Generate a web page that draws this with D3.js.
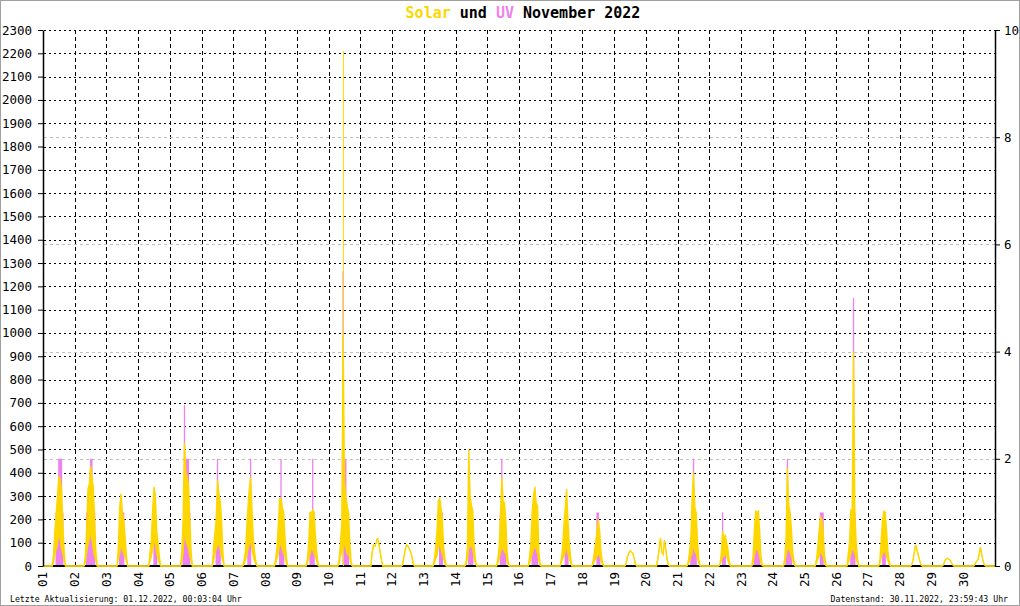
<!DOCTYPE html>
<html><head><meta charset="utf-8">
<script src="https://cdn.jsdelivr.net/npm/d3@7"></script>
<style>
body{margin:0;background:#fff}
svg{display:block}
text{font-family:"DejaVu Sans Mono","Liberation Mono",monospace}
</style>
</head><body>
<svg id="chart" width="1020" height="606"></svg>
<script>
// ---------- data ----------
const dayLabels = ["01","02","03","04","05","06","07","08","09","10","11","12","13","14","15",
                   "16","17","18","19","20","21","22","23","24","25","26","27","28","29","30"];
const hours = [7,8,9,10,11,12,13,14,15,16,17,18];
const leftTicks = [0,100,200,300,400,500,600,700,800,900,1000,1100,1200,1300,1400,1500,1600,1700,1800,1900,2000,2100,2200,2300];
const rightTicks = [0,2,4,6,8,10];

// solar radiation (W/m²): upper envelope per hour
const solarHi = [
 [0,50,150,230,300,385,370,330,180,60,0,0],
 [0,40,150,330,350,430,380,340,200,60,0,0],
 [0,0,80,250,310,230,200,130,50,0,0,0],
 [0,0,60,120,250,340,300,150,100,40,0,0],
 [0,0,60,200,530,400,380,350,200,60,0,0],
 [0,0,80,140,200,370,310,280,200,60,0,0],
 [0,20,60,150,250,330,380,250,120,60,20,0],
 [0,30,80,180,290,290,250,230,120,40,0,0],
 [0,30,100,230,230,240,230,130,60,10,0,0],
 [0,30,100,180,1000,360,300,260,230,100,20,0],
 [0,0,60,90,85,100,120,95,60,25,0,0],
 [0,5,40,70,90,85,75,60,40,10,0,0],
 [0,30,80,150,280,290,250,200,80,30,0,0],
 [0,20,80,500,300,260,240,90,30,0,0,0],
 [0,30,80,220,380,280,270,200,60,10,0,0],
 [0,40,100,240,300,340,270,260,60,10,0,0],
 [0,30,80,180,250,330,200,100,40,0,0,0],
 [0,20,60,100,150,200,150,60,20,0,0,0],
 [0,0,10,40,55,65,60,55,35,10,0,0],
 [0,0,30,70,120,60,50,110,70,30,5,0],
 [0,20,60,120,300,400,250,230,100,30,0,0],
 [0,10,50,150,110,135,100,70,20,0,0,0],
 [0,0,40,150,235,230,235,150,40,5,0,0],
 [0,0,30,120,420,260,230,160,60,20,0,0],
 [0,0,30,80,150,210,200,150,50,10,0,0],
 [0,0,50,100,240,240,920,230,100,30,0,0],
 [0,0,30,120,200,235,230,150,60,20,0,0],
 [0,0,5,25,60,90,70,45,25,5,0,0],
 [0,0,5,20,30,33,30,25,15,5,0,0],
 [0,0,10,20,25,50,80,50,20,5,0,0]
];
// lower envelope per hour (null = smooth day, no spread)
const solarLo = [
 [0,10,50,70,90,140,110,70,50,20,0,0],
 [0,10,50,90,110,140,110,70,40,20,0,0],
 [0,0,30,50,90,70,50,40,20,0,0,0],
 [0,0,20,40,70,110,90,50,30,10,0,0],
 [0,0,20,50,140,110,90,70,40,20,0,0],
 [0,0,20,50,70,90,90,70,40,20,0,0],
 [0,5,20,40,70,90,110,70,40,20,5,0],
 [0,10,30,50,90,90,70,50,40,10,0,0],
 [0,10,30,50,70,70,50,40,20,0,0,0],
 [0,10,40,60,110,90,70,50,50,30,5,0],
 null,
 null,
 [0,10,30,40,80,90,70,50,30,10,0,0],
 [0,5,30,70,90,80,70,30,10,0,0,0],
 [0,10,30,50,80,70,60,50,20,0,0,0],
 [0,10,30,50,70,80,70,50,20,0,0,0],
 [0,10,30,40,60,80,50,30,10,0,0,0],
 [0,5,20,30,40,50,40,20,5,0,0,0],
 null,
 null,
 [0,5,20,40,50,90,60,50,30,10,0,0],
 [0,5,20,40,40,50,40,20,5,0,0,0],
 [0,0,10,40,70,70,60,40,10,0,0,0],
 [0,0,10,40,70,70,60,40,20,5,0,0],
 [0,0,10,30,40,60,50,40,15,0,0,0],
 [0,0,10,30,50,70,70,50,30,10,0,0],
 [0,0,10,40,50,60,60,40,20,5,0,0],
 null,
 null,
 null
];
// short single-sample solar spikes: [day, hour, value]
const solarSpikes = [[10, 11.2, 2210]];

// UV index per hour
const uvIndex = [
 [0,0,0,1,1,2,2,2,1,0,0,0],
 [0,0,1,1,1,2,2,1,1,0,0,0],
 [0,0,0,1,1,1,1,0,0,0,0,0],
 [0,0,0,0,0,0.6,0.6,0.5,0,0,0,0],
 [0,0,0,0.5,3,2,2,2,1,0,0,0],
 [0,0,0,0,0.5,2,1,0.5,0,0,0,0],
 [0,0,0,0,1,1,2,0,0,0,0,0],
 [0,0,0,0,0.6,2,0.6,0.6,0,0,0,0],
 [0,0,0,1,1,2,1,0,0,0,0,0],
 [0,0,0,0,5.5,2,2,1,1,0,0,0],
 null,
 null,
 [0,0,0,0,0,1,1,1,0,0,0,0],
 [0,0,0,1,0.6,0.6,0.5,0,0,0,0,0],
 [0,0,0,1,2,1,0.5,0.5,0,0,0,0],
 [0,0,0,0.5,0.5,0.5,0.5,0.5,0,0,0,0],
 [0,0,0,0,0.5,1,0.5,0,0,0,0,0],
 [0,0,0,0,1,1,0.5,0,0,0,0,0],
 null,
 null,
 [0,0,0,0.5,1,2,1,1,0,0,0,0],
 [0,0,0,1,0.5,0.3,0,0,0,0,0,0],
 [0,0,0,0.5,1,1,1,0.5,0,0,0,0],
 [0,0,0,0.5,2,1,1,0.5,0,0,0,0],
 [0,0,0,0,0,1,1,1,0,0,0,0],
 [0,0,0,0,1,1,5,1,0,0,0,0],
 [0,0,0,0,0.5,1,1,0,0,0,0,0],
 null,
 null,
 null
];

// ---------- build series ----------
const pts = [{t:0, hi:0, lo:0, uv:0}];
dayLabels.forEach((d,i)=>{
  hours.forEach((h,j)=>{
    const hi = solarHi[i][j];
    const lo = solarLo[i] ? solarLo[i][j] : hi;
    const uv = uvIndex[i] ? uvIndex[i][j] : 0;
    pts.push({t:i*24+h, hi, lo, uv});
  });
});
pts.push({t:dayLabels.length*24, hi:0, lo:0, uv:0});

// ---------- chart ----------
const W=1020, H=606;
const m = {l:43, r:995, t:30, b:566};
const svg = d3.select("#chart");
const x = d3.scaleLinear().domain([0, dayLabels.length*24]).range([m.l, m.r]);
const yL = d3.scaleLinear().domain([0,2300]).range([m.b, m.t]);
const yR = d3.scaleLinear().domain([0,10]).range([m.b, m.t]);

// frame
svg.append("rect").attr("x",0.5).attr("y",0.5).attr("width",W-1).attr("height",H-1)
  .attr("fill","#fff").attr("stroke","#a0a0a0");

const g = svg.append("g");

// horizontal dotted grid
g.selectAll("line.hg").data(leftTicks.filter(v=>v>0)).join("line")
  .attr("x1",m.l+1).attr("x2",m.r).attr("y1",d=>Math.round(yL(d))+0.5).attr("y2",d=>Math.round(yL(d))+0.5)
  .attr("stroke","#000").attr("stroke-width",1).attr("stroke-dasharray","2,3").attr("shape-rendering","crispEdges");
// vertical dashed grid at day boundaries
g.selectAll("line.vg").data(dayLabels.slice(1)).join("line")
  .attr("x1",(d,i)=>Math.round(x((i+1)*24))+0.5).attr("x2",(d,i)=>Math.round(x((i+1)*24))+0.5)
  .attr("y1",m.t).attr("y2",m.b)
  .attr("stroke","#000").attr("stroke-width",1).attr("stroke-dasharray","4,3").attr("shape-rendering","crispEdges");
// gray dashed lines for right-axis ticks
g.selectAll("line.rg").data(rightTicks.filter(v=>v>0 && v<10)).join("line")
  .attr("x1",m.l+1).attr("x2",m.r).attr("y1",d=>Math.round(yR(d))+0.5).attr("y2",d=>Math.round(yR(d))+0.5)
  .attr("stroke","#c0c0c0").attr("stroke-width",1).attr("stroke-dasharray","3,3").attr("shape-rendering","crispEdges");

// UV (violet)
g.append("path").datum(pts)
  .attr("d", d3.area().x(d=>x(d.t)).y0(yR(0)).y1(d=>yR(d.uv)).curve(d3.curveStep))
  .attr("fill","#EE82EE");

// black baseline
g.append("line").attr("x1",m.l).attr("x2",m.r).attr("y1",m.b).attr("y2",m.b)
  .attr("stroke","#000").attr("stroke-width",2);

// solar band + lines (gold)
g.append("path").datum(pts)
  .attr("d", d3.area().x(d=>x(d.t)).y0(d=>yL(d.lo)).y1(d=>yL(d.hi)))
  .attr("fill","#FFD700");
g.append("path").datum(pts)
  .attr("d", d3.line().x(d=>x(d.t)).y(d=>yL(d.hi)))
  .attr("fill","none").attr("stroke","#FFD700").attr("stroke-width",1.4);
g.append("path").datum(pts)
  .attr("d", d3.line().x(d=>x(d.t)).y(d=>yL(d.lo)))
  .attr("fill","none").attr("stroke","#FFD700").attr("stroke-width",1);
// spikes
g.selectAll("line.spk").data(solarSpikes).join("line")
  .attr("x1",d=>x((d[0]-1)*24+d[1])).attr("x2",d=>x((d[0]-1)*24+d[1]))
  .attr("y1",yL(0)).attr("y2",d=>yL(d[2]))
  .attr("stroke","#FFD700").attr("stroke-width",1);

// axes
const axL = svg.append("g").attr("transform",`translate(${m.l},0)`)
  .call(d3.axisLeft(yL).tickValues(leftTicks).tickFormat(d3.format("d")).tickSize(5).tickSizeOuter(0).tickPadding(6));
const axR = svg.append("g").attr("transform",`translate(${m.r},0)`)
  .call(d3.axisRight(yR).tickValues(rightTicks).tickFormat(d3.format("d")).tickSize(5).tickSizeOuter(0).tickPadding(4));
[axL, axR].forEach(a=>{
  a.select(".domain").attr("stroke","#000").attr("stroke-width",1.5);
  a.selectAll(".tick line").attr("stroke","#000");
  a.selectAll("text").attr("font-size","12.5px").attr("fill","#000")
    .attr("font-family",'"DejaVu Sans Mono",monospace');
});

// day labels (rotated)
svg.append("g").selectAll("text").data(dayLabels).join("text")
  .attr("transform",(d,i)=>`translate(${x(i*24)},572) rotate(-90)`)
  .attr("text-anchor","end").attr("dy","0.35em")
  .attr("font-size","12.5px").attr("fill","#000").text(d=>d);

// title
const title = svg.append("text").attr("x",523).attr("y",18).attr("text-anchor","middle")
  .attr("font-size","15px").attr("font-weight","bold");
title.append("tspan").attr("fill","#FFD700").text("Solar");
title.append("tspan").attr("fill","#000").text(" und ");
title.append("tspan").attr("fill","#EE82EE").text("UV");
title.append("tspan").attr("fill","#000").text(" November 2022");

// footer
svg.append("text").attr("x",10).attr("y",602).attr("font-size","8.2px").attr("fill","#000")
  .text("Letzte Aktualisierung: 01.12.2022, 00:03:04 Uhr");
svg.append("text").attr("x",1008).attr("y",602).attr("text-anchor","end").attr("font-size","8.2px").attr("fill","#000")
  .text("Datenstand: 30.11.2022, 23:59:43 Uhr");
</script>
</body></html>
